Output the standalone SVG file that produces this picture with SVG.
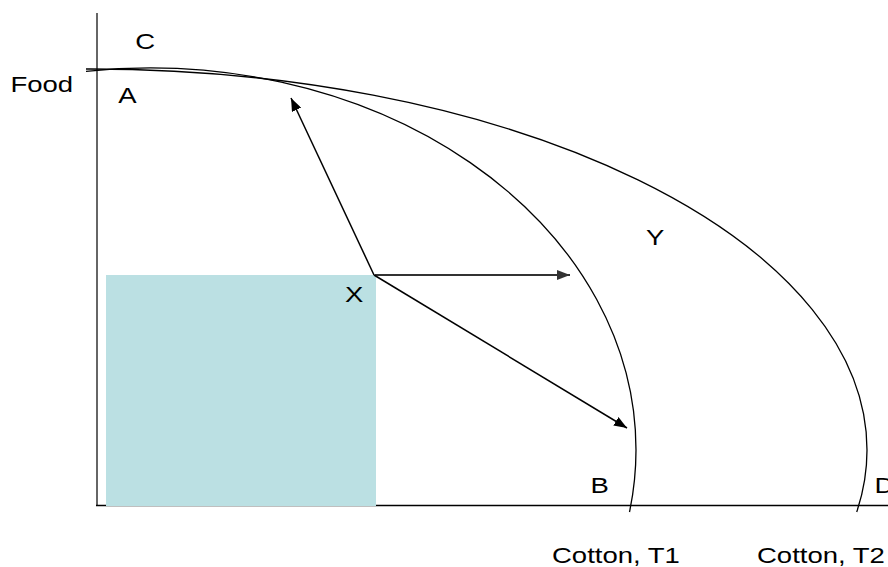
<svg xmlns="http://www.w3.org/2000/svg" width="888" height="567" viewBox="0 0 888 567">
<style>
.lbl{font-family:"Liberation Sans",Arial,sans-serif;font-size:22px;fill:#000}
.curve{fill:none;stroke:#000;stroke-width:1.3}
.arr{fill:none;stroke:#000;stroke-width:1.5}
</style>
<defs>
<marker id="ah" markerUnits="userSpaceOnUse" markerWidth="14" markerHeight="10" viewBox="0 0 14 10" refX="13" refY="5" orient="auto">
<path d="M0,0 L13,5 L0,10 Z" fill="#000"/>
</marker>
<marker id="ahg" markerUnits="userSpaceOnUse" markerWidth="14" markerHeight="10" viewBox="0 0 14 10" refX="13" refY="5" orient="auto">
<path d="M0,0 L13,5 L0,10 Z" fill="#333"/>
</marker>
</defs>
<rect width="888" height="567" fill="#fff"/>
<g id="axes">
<line x1="97" y1="13" x2="97" y2="506" stroke="#666" stroke-width="2"/>
<line x1="96" y1="505.5" x2="888" y2="505.5" stroke="#000" stroke-width="1.5"/>
</g>
<g id="region">
<rect x="106" y="275" width="270" height="231" fill="#bbe0e3"/>
</g>
<g id="curves">
<path id="T1" class="curve" d="M86 71.3 A486 382 0 0 1 636 450 A486 382 0 0 1 629.5 512"/>
<path id="T2" class="curve" d="M86 69 A777 381 0 0 1 867 450 A777 381 0 0 1 856.7 512"/>
</g>
<g id="connectors">
<line class="arr" x1="374" y1="275" x2="291" y2="98" marker-end="url(#ah)"/>
<line x1="375" y1="275" x2="570" y2="275" stroke="#333" stroke-width="2" marker-end="url(#ahg)"/>
<line class="arr" x1="374" y1="275" x2="627" y2="428" marker-end="url(#ah)"/>
</g>
<g id="labels">
<text class="lbl" transform="translate(10.5 92.3) scale(1.25 1)">Food</text>
<text class="lbl" transform="translate(135.3 49.3) scale(1.25 1)">C</text>
<text class="lbl" transform="translate(118.3 102.7) scale(1.25 1)">A</text>
<text class="lbl" transform="translate(345 301.7) scale(1.25 1)">X</text>
<text class="lbl" transform="translate(646 245) scale(1.25 1)">Y</text>
<text class="lbl" transform="translate(590.5 493.3) scale(1.25 1)">B</text>
<text class="lbl" transform="translate(874.5 493.3) scale(1.25 1)">D</text>
<text class="lbl" transform="translate(552 563.3) scale(1.25 1)">Cotton, T1</text>
<text class="lbl" transform="translate(757 563.3) scale(1.25 1)">Cotton, T2</text>
</g>
</svg>
